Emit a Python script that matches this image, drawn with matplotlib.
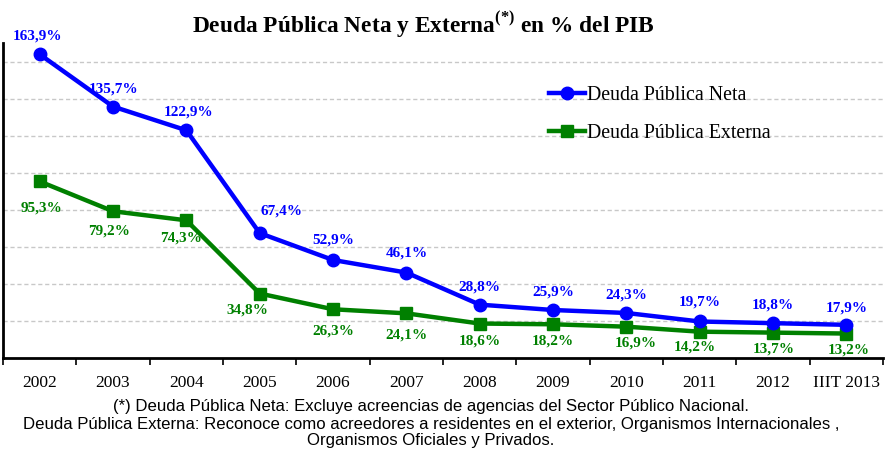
import matplotlib
matplotlib.use("Agg")
import matplotlib.pyplot as plt
import numpy as np

categories = ["2002", "2003", "2004", "2005", "2006", "2007", "2008", "2009",
              "2010", "2011", "2012", "IIIT 2013"]
neta = [163.9, 135.7, 122.9, 67.4, 52.9, 46.1, 28.8, 25.9, 24.3, 19.7, 18.8, 17.9]
externa = [95.3, 79.2, 74.3, 34.8, 26.3, 24.1, 18.6, 18.2, 16.9, 14.2, 13.7, 13.2]
neta_labels = ["163,9%", "135,7%", "122,9%", "67,4%", "52,9%", "46,1%", "28,8%",
               "25,9%", "24,3%", "19,7%", "18,8%", "17,9%"]
externa_labels = ["95,3%", "79,2%", "74,3%", "34,8%", "26,3%", "24,1%", "18,6%",
                  "18,2%", "16,9%", "14,2%", "13,7%", "13,2%"]

plt.rcParams['mathtext.fontset'] = 'custom'
plt.rcParams['mathtext.rm'] = 'Liberation Serif:bold'
serif = ['Liberation Serif', 'DejaVu Serif']

fig = plt.figure(figsize=(8.86, 4.53), dpi=100)
ax = fig.add_axes([3/886, 1 - 358/453, 880/886, (358 - 43)/453])

x = np.arange(len(categories))
BLUE = '#0000FF'
GREEN = '#008000'
ax.plot(x, neta, color=BLUE, lw=3.2, marker='o', ms=9, label='Deuda Pública Neta', zorder=4)
ax.plot(x, externa, color=GREEN, lw=3.2, marker='s', ms=9, label='Deuda Pública Externa', zorder=3)

ax.set_xlim(-0.5, len(categories) - 0.5)
ax.set_ylim(0, 170)
ax.set_yticks(np.arange(20, 170, 20))
ax.yaxis.grid(True, linestyle=(0, (3, 2)), color='#c8c8c8', lw=1)
ax.set_axisbelow(True)
ax.tick_params(axis='y', left=False, labelleft=False)
ax.set_xticks(x)
ax.set_xticklabels(categories, fontfamily=serif, fontsize=12.5)
ax.set_xticks(np.arange(-0.5, len(categories), 1), minor=True)
ax.tick_params(axis='x', which='major', length=0, pad=12)
ax.tick_params(axis='x', which='minor', length=5, width=1.2, direction='out')
for s in ['top', 'right']:
    ax.spines[s].set_visible(False)
ax.spines['left'].set_linewidth(2)
ax.spines['bottom'].set_linewidth(2)

neta_off = [(-2, 18), (1, 18), (2, 18), (22, 22), (0, 20), (0, 20), (0, 18),
            (0, 18), (0, 18), (0, 19), (0, 18), (0, 17)]
ext_off = [(2, -27), (-4, -20), (-5, -18), (-12, -16), (0, -22), (0, -22), (0, -17),
           (0, -17), (9, -16), (-5, -15), (1, -16), (2, -16)]
for i in range(len(categories)):
    ax.annotate(neta_labels[i], (x[i], neta[i]), xytext=neta_off[i], textcoords='offset pixels',
                ha='center', va='center', color=BLUE, fontweight='bold', fontsize=11,
                fontfamily=serif, zorder=6)
    ax.annotate(externa_labels[i], (x[i], externa[i]), xytext=ext_off[i], textcoords='offset pixels',
                ha='center', va='center', color=GREEN, fontweight='bold', fontsize=11,
                fontfamily=serif, zorder=6)

leg = ax.legend(loc='upper left', bbox_to_anchor=(538/880, 1 - (78 - 43)/315), frameon=False,
                prop={'family': serif, 'size': 14.3}, handlelength=1.8, handletextpad=0.1,
                labelspacing=0.95, borderaxespad=0)

fig.text(423/886, 1 - 24/453, r"Deuda Pública Neta y Externa$^{\mathregular{(*)}}$ en % del PIB",
         ha='center', va='center', fontsize=16.8, fontweight='bold', fontfamily=serif)

foot = ["(*) Deuda Pública Neta: Excluye acreencias de agencias del Sector Público Nacional.",
        "Deuda Pública Externa: Reconoce como acreedores a residentes en el exterior, Organismos Internacionales ,",
        "Organismos Oficiales y Privados."]
for j, t in enumerate(foot):
    fig.text(431/886, 1 - (407 + 17 * j)/453, t, ha='center', va='center', fontsize=12.1,
             fontfamily=['Liberation Sans', 'DejaVu Sans'])

fig.savefig('out.png', dpi=100)
